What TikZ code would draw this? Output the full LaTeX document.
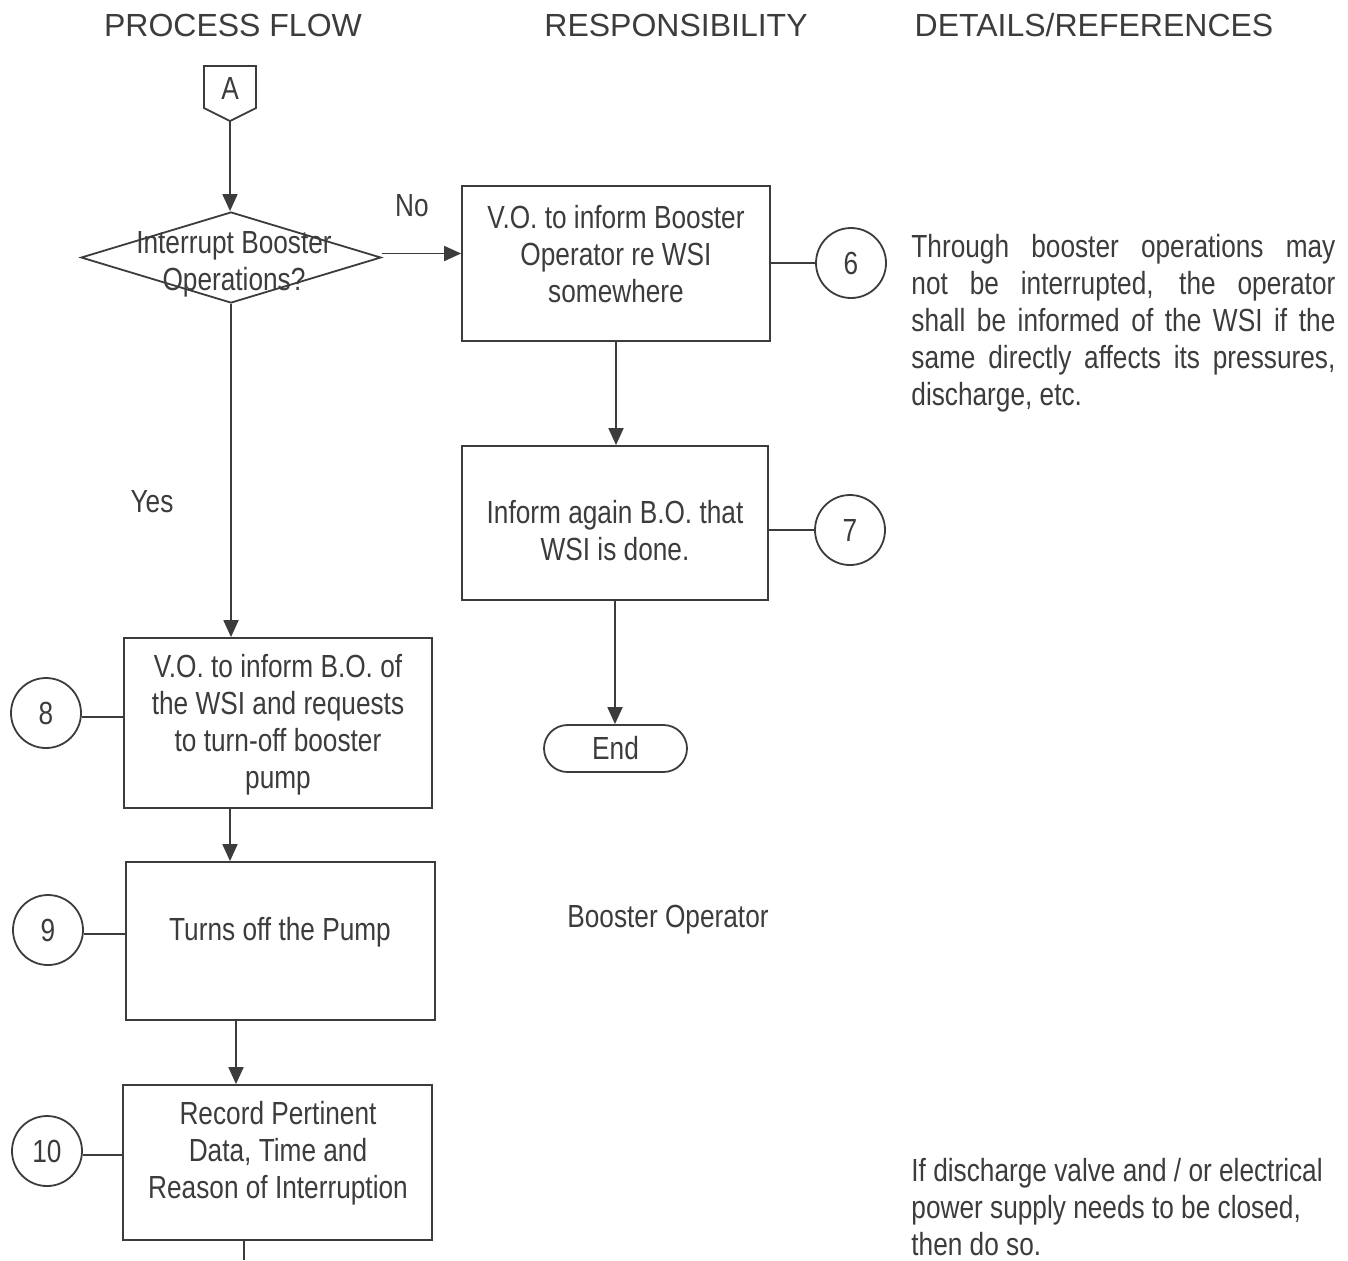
\documentclass[tikz,border=0pt]{standalone}
\usepackage{fontspec}
\setmainfont{Liberation Sans}
\newfontfamily\narrowfont[FakeStretch=0.82]{Liberation Sans}
\usetikzlibrary{arrows.meta,shapes.geometric,shapes.misc}
\definecolor{ink}{RGB}{60,60,60}
\begin{document}
\begin{tikzpicture}[x=0.5pt,y=-0.5pt,
  ln/.style={draw=ink,line width=0.9pt},
  arr/.style={ln,-{Triangle[length=8.5pt,width=7.5pt]}},
  box/.style={draw=ink,line width=0.9pt,rectangle,inner sep=0pt},
  txt/.style={font=\narrowfont\fontsize{16}{18.5}\selectfont,align=center,inner sep=0pt,text=ink},
  hdr/.style={font=\fontsize{16}{18.5}\selectfont,inner sep=0pt,text=ink},
  num/.style={draw=ink,line width=0.9pt,circle,minimum size=35pt,inner sep=0pt,
    font=\narrowfont\fontsize{16}{18.5}\selectfont,text=ink}]
\useasboundingbox (0,0) rectangle (1348,1260);
% headers
\node[hdr] (h1) at (233,25) {PROCESS FLOW};
\node[hdr] (h2) at (676,25) {RESPONSIBILITY};
\node[hdr] (h3) at (1094,25) {DETAILS/REFERENCES};
% off-page connector A
\draw[ln] (204,66) -- (256,66) -- (256,108) -- (230,121) -- (204,108) -- cycle;
\coordinate (atip) at (230,121);
\node[txt] (A) at (230,88) {A};
% decision
\node[draw=ink,line width=0.9pt,diamond,minimum width=150pt,minimum height=45.5pt,inner sep=0pt] (dia) at (231,257.5) {};
\node[txt] (diat) at (234,264) {Interrupt Booster\\Operations?};
% boxes
\node[box,minimum width=154pt,minimum height=77.5pt] (b1) at (616,263.5) {};
\node[txt] (t1) at (616,254) {V.O. to inform Booster\\Operator re WSI\\somewhere};
\node[box,minimum width=153pt,minimum height=77pt] (b2) at (615,523) {};
\node[txt] (t2) at (615,531) {Inform again B.O. that\\WSI is done.};
\node[draw=ink,line width=0.9pt,rounded rectangle,minimum width=71.5pt,minimum height=23.5pt,inner sep=0pt,
  font=\narrowfont\fontsize{16}{18.5}\selectfont,text=ink] (endn) at (615.5,748.5) {End};
\node[box,minimum width=154pt,minimum height=85pt] (b8) at (278,723) {};
\node[txt] (t8) at (278,725) {V.O. to inform B.O. of\\the WSI and requests\\to turn-off booster\\pump};
\node[box,minimum width=154.5pt,minimum height=79pt] (b9) at (280.5,941) {};
\node[txt] (t9) at (280,932) {Turns off the Pump};
\node[box,minimum width=154.5pt,minimum height=77.5pt] (b10) at (277.5,1162.5) {};
\node[txt] (t10) at (278,1153) {Record Pertinent\\Data, Time and\\Reason of Interruption};
% numbered circles
\node[num] (c6) at (851,263) {6};
\node[num] (c7) at (850,530) {7};
\node[num] (c8) at (46,713) {8};
\node[num] (c9) at (48,930) {9};
\node[num] (c10) at (47,1151) {10};
% labels
\node[txt] (no) at (412,206) {No};
\node[txt] (yes) at (152,502) {Yes};
\node[txt] (bo) at (668,920) {Booster Operator};
% connectors
\draw[arr] (atip) -- (atip |- dia.north);
\draw[arr] ([yshift=2pt]dia.east) -- ([yshift=2pt]dia.east -| b1.west);
\draw[arr] (dia.south) -- (dia.south |- b8.north);
\draw[arr] (b1.south) -- (b1.south |- b2.north);
\draw[arr] (b2.south) -- (b2.south |- endn.north);
\draw[arr] (b8.south -| atip) -- (b9.north -| atip);
\coordinate (a910) at (236,1000);
\draw[arr] (b9.south -| a910) -- (b10.north -| a910);
\coordinate (cont) at (244,1260);
\draw[ln] (b10.south -| cont) -- (cont);
\draw[ln] (c6.west) -- (c6.west -| b1.east);
\draw[ln] (c7.west) -- (c7.west -| b2.east);
\draw[ln] ([yshift=-2pt]c8.east) -- ([yshift=-2pt]c8.east -| b8.west);
\draw[ln] ([yshift=-2pt]c9.east) -- ([yshift=-2pt]c9.east -| b9.west);
\draw[ln] ([yshift=-2pt]c10.east) -- ([yshift=-2pt]c10.east -| b10.west);
% details
\node[txt,align=left,anchor=north west] (d1) at (911,234) {%
\makebox[212pt][s]{Through booster operations may}\\
\makebox[212pt][s]{not be interrupted, the operator}\\
\makebox[212pt][s]{shall be informed of the WSI if the}\\
\makebox[212pt][s]{same directly affects its pressures,}\\
discharge, etc.};
\node[txt,align=left,anchor=north west] (d2) at (911,1158) {If discharge valve and / or electrical\\power supply needs to be closed,\\then do so.};
\end{tikzpicture}
\end{document}
